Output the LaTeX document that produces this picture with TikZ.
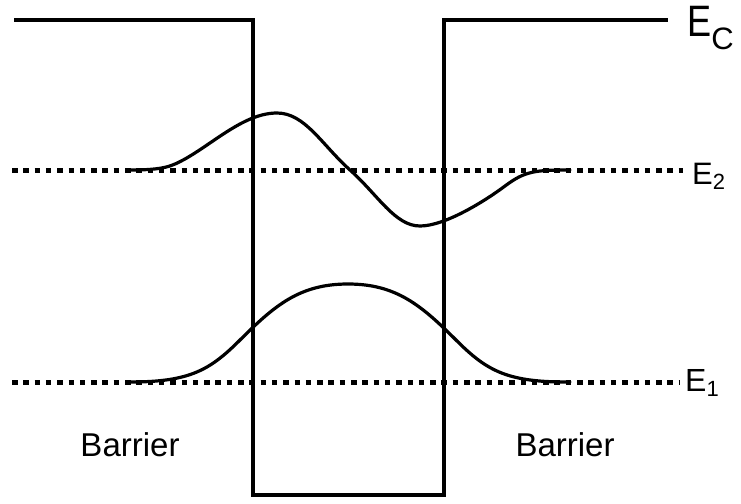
\documentclass[tikz,border=0pt]{standalone}
\usepackage{fontspec}
\setmainfont{Liberation Sans}
\usetikzlibrary{positioning}

\begin{document}
\begin{tikzpicture}[
        x=1pt, y=-1pt,
        band/.style={line width=3.5pt, line join=miter},
        level/.style={line width=5pt, dash pattern=on 5.5pt off 5.8pt},
        wave/.style={line width=3.2pt, line cap=round, line join=round},
        lbl/.style={inner sep=0pt, anchor=base west},
        txt/.style={inner sep=0pt, font=\fontsize{33}{33}\selectfont}
    ]
        \useasboundingbox (0,0) rectangle (741,503);
        % conduction band edge with the well
        \coordinate (b1) at (14,20);
        \coordinate (b2) at (253,20);
        \coordinate (b3) at (253,495);
        \coordinate (b4) at (444,495);
        \coordinate (b5) at (444,20);
        \coordinate (b6) at (668,20);
        \draw[band] (b1) -- (b2) -- (b3) -- (b4) -- (b5) -- (b6);
        \node[lbl] (ec) at (687,37) {\fontsize{44}{44}\selectfont\scalebox{0.82}[1]{E}\raisebox{-13pt}{\fontsize{31}{31}\selectfont C}};
% energy levels
        \node[lbl] (e2) at (692,184) {\fontsize{31}{31}\selectfont E\raisebox{-5pt}{\fontsize{22}{22}\selectfont 2}};
        \node[lbl] (e1) at (685,391) {\fontsize{32}{32}\selectfont E\raisebox{-5pt}{\fontsize{22}{22}\selectfont 1}};
        \coordinate (l2) at (12,170);
        \coordinate (r2) at (683,170);
        \coordinate (l1) at (12,382);
        \coordinate (r1) at (679,382);
        \draw[level] (l2) -- (r2);
        \draw[level] (l1) -- (r1);
        % wave functions
        \draw[wave] (130,170) .. controls (165,170) and (172,166) .. (185,159)
            .. controls (215,142) and (245,113) .. (277,113)
            .. controls (305,113) and (322,145) .. (350,170)
            .. controls (378,195) and (395,226) .. (420,226)
            .. controls (445,226) and (485,201) .. (505,186)
            .. controls (525,171) and (535,170) .. (570,170);
        \draw[wave] (130,382) .. controls (190,382) and (210,370) .. (240,340)
            .. controls (275,305) and (300,284) .. (348,284)
            .. controls (396,284) and (421,305) .. (456,340)
            .. controls (486,370) and (506,382) .. (566,382) -- (570,382);
        % region labels
        \node[txt] (bl) at (130,445) {Barrier};
        \node[txt] (br) at (565,445) {Barrier};
\end{tikzpicture}
\end{document}
